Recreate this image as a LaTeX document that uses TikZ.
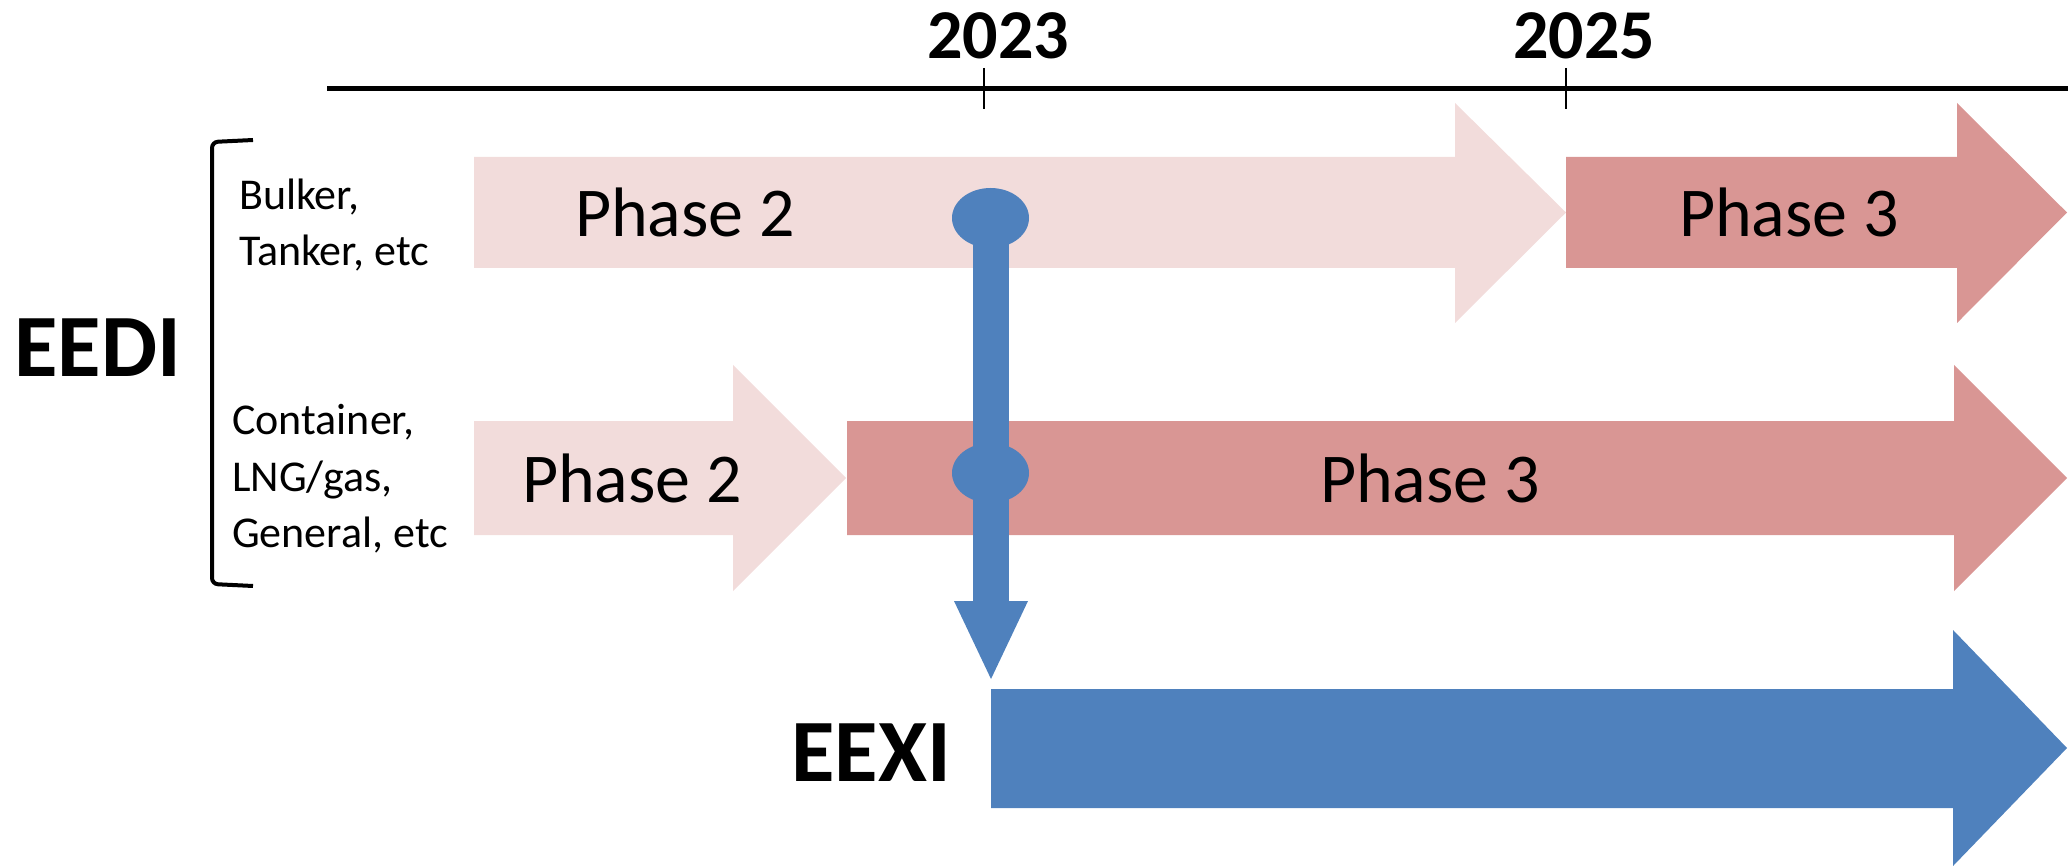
\documentclass[tikz,border=0pt]{standalone}
\usepackage{fontspec}
\setmainfont{Carlito}
\definecolor{lightpink}{HTML}{F2DCDB}
\definecolor{darkpink}{HTML}{D99694}
\definecolor{eblue}{HTML}{4F81BD}
\tikzset{
  phasetext/.style={font=\fontsize{70}{84}\selectfont, anchor=base, inner sep=0pt},
  yeartext/.style={font=\fontsize{70}{84}\selectfont\bfseries, anchor=base, inner sep=0pt},
  bigtext/.style={font=\fontsize{89}{108}\selectfont\bfseries, anchor=base west, inner sep=0pt},
  smalltext/.style={font=\fontsize{44}{56}\selectfont, anchor=base west, inner sep=0pt},
  tickline/.style={line width=2pt, black},
}
\begin{document}
\begin{tikzpicture}[x=1pt,y=-1pt]
\useasboundingbox (0,0) rectangle (2072,866);
% timeline
\coordinate (tlA) at (327,89);
\coordinate (tlB) at (2068,89);
\draw[line width=5pt] (tlA) -- (tlB);
\coordinate (t23a) at (984,68); \coordinate (t23b) at (984,109);
\coordinate (t25a) at (1566,68); \coordinate (t25b) at (1566,109);
\draw[tickline] (t23a) -- (t23b);
\draw[tickline] (t25a) -- (t25b);
\node[yeartext] (y2023) at (998,59) {2023};
\node[yeartext] (y2025) at (1584,59) {2025};

% top row arrows
\fill[lightpink] (474,157) -- (1455,157) -- (1455,103) -- (1566,212.5) -- (1455,323) -- (1455,268) -- (474,268) -- cycle;
\fill[darkpink] (1566,157) -- (1957,157) -- (1957,103) -- (2067,212.5) -- (1957,323) -- (1957,268) -- (1566,268) -- cycle;
% lower row arrows
\fill[lightpink] (474,421) -- (733,421) -- (733,365) -- (846,478) -- (733,591) -- (733,535) -- (474,535) -- cycle;
\fill[darkpink] (847,421) -- (1954,421) -- (1954,365) -- (2067,478) -- (1954,591) -- (1954,535) -- (847,535) -- cycle;
% EEXI arrow
\fill[eblue] (991,689) -- (1953,689) -- (1953,630) -- (2067,748) -- (1953,866) -- (1953,808) -- (991,808) -- cycle;

\node[phasetext] (p2a) at (685,237) {Phase 2};
\node[phasetext] (p3a) at (1789,237) {Phase 3};
\node[phasetext] (p2b) at (632,502) {Phase 2};
\node[phasetext] (p3b) at (1430,502) {Phase 3};

% blue connector
\coordinate (dotA) at (990.5,218);
\coordinate (dotB) at (990.5,473);
\coordinate (headbase) at (990.5,601);
\coordinate (headtip) at (991,679);
\fill[eblue] (973,218) rectangle (1009,602);
\fill[eblue] (dotA) ellipse [x radius=38.5, y radius=30];
\fill[eblue] (dotB) ellipse [x radius=38.5, y radius=30];
\fill[eblue] (954,601) -- (1028,601) -- (headtip) -- cycle;

% bracket
\draw[line width=4pt, rounded corners=6pt] (253,140) -- (212,142) -- (212,584) -- (253,586);

% labels
\node[bigtext] (eedi) at (14,377) {EEDI};
\node[bigtext] (eexi) at (791,781) {EEXI};
\node[smalltext] (l1) at (239,210) {Bulker,};
\node[smalltext] (l2) at (239,266) {Tanker, etc};
\node[smalltext] (l3) at (232,435) {Container,};
\node[smalltext] (l4) at (232,491) {LNG/gas,};
\node[smalltext] (l5) at (232,547) {General, etc};
\end{tikzpicture}
\end{document}
